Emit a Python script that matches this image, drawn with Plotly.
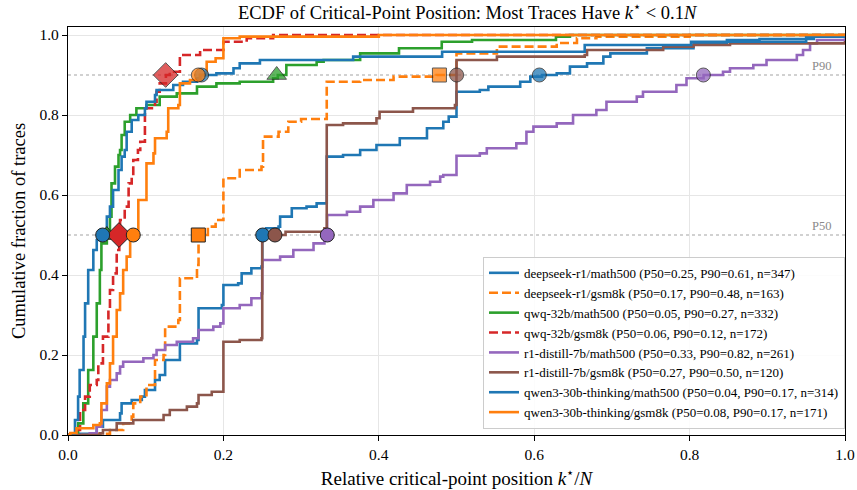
import plotly.graph_objects as go

# ---------------- data ----------------
series_names = [
    "deepseek-r1/math500", "deepseek-r1/gsm8k", "qwq-32b/math500", "qwq-32b/gsm8k",
    "r1-distill-7b/math500", "r1-distill-7b/gsm8k", "qwen3-30b-thinking/math500",
    "qwen3-30b-thinking/gsm8k",
]
p50_labels = ["0.25", "0.17", "0.05", "0.06", "0.33", "0.27", "0.04", "0.08"]
p90_labels = ["0.61", "0.48", "0.27", "0.12", "0.82", "0.50", "0.17", "0.17"]
n_labels = [347, 163, 332, 172, 261, 120, 314, 171]
p50_values = [0.2506, 0.1677, 0.050, 0.0656, 0.3337, 0.2664, 0.0446, 0.084]
p90_values = [0.6066, 0.478, 0.2686, 0.1257, 0.8177, 0.5002, 0.172, 0.1677]

ds_math_x = [0, 0.01, 0.037, 0.045, 0.067, 0.069, 0.082, 0.095, 0.099, 0.112, 0.118, 0.125, 0.144,
             0.166, 0.168, 0.198, 0.2, 0.219, 0.2235, 0.236, 0.249, 0.25, 0.255, 0.271, 0.273,
             0.288, 0.307, 0.32, 0.333, 0.354, 0.376, 0.397, 0.427, 0.462, 0.483, 0.49, 0.5,
             0.53, 0.541, 0.582, 0.595, 0.61, 0.629, 0.646, 0.668, 0.689, 0.698, 0.745, 0.805,
             0.848, 0.89, 0.96, 1.0]
ds_math_y = [0, 0.003, 0.021, 0.0375, 0.054, 0.079, 0.0875, 0.096, 0.1125, 0.1375, 0.15, 0.1875,
             0.229, 0.2375, 0.317, 0.325, 0.375, 0.379, 0.404, 0.417, 0.421, 0.5, 0.517, 0.521,
             0.546, 0.567, 0.571, 0.579, 0.696, 0.70, 0.7125, 0.725, 0.742, 0.767, 0.783, 0.796,
             0.858, 0.8625, 0.871, 0.883, 0.896, 0.9, 0.904, 0.921, 0.929, 0.946, 0.954, 0.967,
             0.979, 0.9875, 0.99, 0.996, 0.997]

ds_gsm_x = [0, 0.04, 0.054, 0.071, 0.082, 0.084, 0.093, 0.101, 0.112, 0.123, 0.125, 0.142, 0.144,
            0.166, 0.168, 0.18, 0.19, 0.2, 0.221, 0.249, 0.251, 0.271, 0.2835, 0.3, 0.333, 0.376,
            0.419, 0.4745, 0.5, 0.552, 0.629, 0.655, 0.68, 0.8, 1.0]
ds_gsm_y = [0, 0.003, 0.0125, 0.029, 0.046, 0.079, 0.096, 0.125, 0.1875, 0.2, 0.271, 0.2875, 0.392,
            0.425, 0.5, 0.521, 0.5375, 0.642, 0.6625, 0.671, 0.746, 0.758, 0.783, 0.79, 0.883,
            0.8875, 0.896, 0.9, 0.954, 0.971, 0.98, 0.992, 0.996, 1.0, 1.0]

qwq_math_x = [0, 0.009, 0.013, 0.0197, 0.026, 0.0326, 0.037, 0.041, 0.043, 0.05, 0.054, 0.056,
              0.0605, 0.065, 0.067, 0.069, 0.073, 0.08, 0.088, 0.101, 0.118, 0.14, 0.166, 0.191,
              0.221, 0.264, 0.27, 0.281, 0.32, 0.329, 0.376, 0.426, 0.481, 0.52, 0.628, 0.646, 1.0]
qwq_math_y = [0, 0.004, 0.029, 0.079, 0.1625, 0.246, 0.329, 0.4125, 0.479, 0.5, 0.546, 0.629,
              0.671, 0.7, 0.7125, 0.75, 0.783, 0.8, 0.817, 0.825, 0.846, 0.854, 0.871, 0.879,
              0.883, 0.892, 0.9, 0.925, 0.933, 0.9375, 0.954, 0.967, 0.983, 0.9875, 0.996, 1.0, 1.0]

qwq_gsm_x = [0, 0.009, 0.0155, 0.022, 0.028, 0.037, 0.039, 0.045, 0.052, 0.054, 0.058, 0.0627,
             0.066, 0.067, 0.073, 0.078, 0.082, 0.084, 0.09, 0.093, 0.099, 0.112, 0.114, 0.118,
             0.126, 0.131, 0.144, 0.17, 0.2, 0.23, 0.264, 1.0]
qwq_gsm_y = [0, 0.0125, 0.0625, 0.096, 0.125, 0.1375, 0.179, 0.246, 0.3125, 0.3625, 0.404, 0.4625,
             0.5, 0.5375, 0.571, 0.629, 0.646, 0.6875, 0.7125, 0.733, 0.817, 0.833, 0.858, 0.879,
             0.9, 0.908, 0.95, 0.9625, 0.983, 0.992, 1.0, 1.0]

r1_math_x = [0, 0.028, 0.037, 0.043, 0.05, 0.054, 0.0627, 0.067, 0.071, 0.097, 0.11, 0.114, 0.125,
             0.14, 0.161, 0.168, 0.187, 0.196, 0.2, 0.221, 0.236, 0.249, 0.25, 0.273, 0.29, 0.316,
             0.33, 0.3335, 0.359, 0.376, 0.393, 0.419, 0.436, 0.466, 0.479, 0.483, 0.5, 0.53,
             0.539, 0.577, 0.59, 0.599, 0.629, 0.65, 0.68, 0.693, 0.732, 0.74, 0.783, 0.796,
             0.818, 0.843, 0.852, 0.882, 0.899, 0.938, 0.946, 0.955, 0.964, 1.0]
r1_math_y = [0, 0.004, 0.021, 0.0625, 0.121, 0.1375, 0.154, 0.171, 0.183, 0.192, 0.2, 0.2125,
             0.225, 0.233, 0.242, 0.2625, 0.271, 0.279, 0.317, 0.325, 0.342, 0.354, 0.4375, 0.446,
             0.4625, 0.479, 0.496, 0.55, 0.558, 0.571, 0.5875, 0.604, 0.625, 0.633, 0.646, 0.65,
             0.698, 0.704, 0.717, 0.729, 0.758, 0.771, 0.779, 0.8, 0.8125, 0.833, 0.846, 0.858,
             0.875, 0.892, 0.9, 0.908, 0.917, 0.925, 0.9375, 0.95, 0.9625, 0.979, 0.9875, 0.992]

r1_gsm_x = [0, 0.041, 0.045, 0.0627, 0.084, 0.123, 0.131, 0.153, 0.166, 0.168, 0.185, 0.2, 0.221,
            0.249, 0.25, 0.28, 0.33, 0.333, 0.354, 0.397, 0.401, 0.444, 0.498, 0.5, 0.552, 0.665,
            0.668, 0.766, 0.805, 0.852, 1.0]
r1_gsm_y = [0, 0.004, 0.0125, 0.029, 0.0375, 0.05, 0.0625, 0.071, 0.079, 0.1, 0.108, 0.233,
            0.2375, 0.242, 0.5, 0.508, 0.517, 0.775, 0.779, 0.792, 0.808, 0.817, 0.825, 0.9375,
            0.946, 0.95, 0.9625, 0.971, 0.975, 0.979, 0.985]

qw_math_x = [0, 0.003, 0.009, 0.013, 0.015, 0.02, 0.022, 0.026, 0.0326, 0.037, 0.044, 0.05, 0.054,
             0.058, 0.065, 0.069, 0.073, 0.0755, 0.082, 0.0905, 0.099, 0.101, 0.112, 0.114,
             0.1355, 0.148, 0.166, 0.17, 0.191, 0.213, 0.221, 0.247, 0.367, 0.4815, 0.665,
             0.802, 0.95, 1.0]
qw_math_y = [0, 0.004, 0.0375, 0.096, 0.1625, 0.246, 0.329, 0.4125, 0.4625, 0.4875, 0.5, 0.546,
             0.571, 0.6125, 0.6625, 0.696, 0.7125, 0.758, 0.7875, 0.8, 0.817, 0.833, 0.85, 0.8625,
             0.875, 0.883, 0.892, 0.9, 0.904, 0.917, 0.929, 0.9375, 0.946, 0.958, 0.975, 0.983,
             0.996, 0.996]

qw_gsm_x = [0, 0.003, 0.011, 0.0326, 0.041, 0.043, 0.05, 0.054, 0.058, 0.0627, 0.067, 0.071,
            0.0755, 0.08, 0.0905, 0.101, 0.11, 0.112, 0.127, 0.129, 0.142, 0.144, 0.157, 0.17,
            0.1785, 0.19, 0.2, 0.221, 0.4, 1.0]
qw_gsm_y = [0, 0.005, 0.017, 0.025, 0.029, 0.079, 0.129, 0.179, 0.246, 0.3125, 0.354, 0.4125,
            0.446, 0.5, 0.5875, 0.679, 0.704, 0.742, 0.758, 0.817, 0.825, 0.879, 0.8875, 0.9,
            0.933, 0.942, 0.992, 0.996, 1.0, 1.0]

curves_x = [ds_math_x, ds_gsm_x, qwq_math_x, qwq_gsm_x, r1_math_x, r1_gsm_x, qw_math_x, qw_gsm_x]
curves_y = [ds_math_y, ds_gsm_y, qwq_math_y, qwq_gsm_y, r1_math_y, r1_gsm_y, qw_math_y, qw_gsm_y]

colors = ["#1f77b4", "#ff7f0e", "#2ca02c", "#d62728", "#9467bd", "#8c564b", "#1f77b4", "#ff7f0e"]
dashes = ["solid", "9px,4px", "solid", "9px,4px", "solid", "solid", "solid", "solid"]
symbols = ["circle", "square", "triangle-up", "diamond", "circle", "circle", "circle", "circle"]
sizes = [14, 14, 17, 19, 14, 14, 14, 14]

FONT = "Liberation Serif, Times New Roman, serif"

fig = go.Figure()

# reference lines
for lvl, lab in [(0.5, "P50"), (0.9, "P90")]:
    fig.add_trace(go.Scatter(x=[0, 1], y=[lvl, lvl], mode="lines", showlegend=False,
                             line=dict(color="rgba(140,140,140,0.8)", width=1, dash="dot"),
                             hoverinfo="skip"))
    fig.add_annotation(x=0.985, y=lvl, text=lab, showarrow=False, xanchor="right",
                       yanchor="bottom", yshift=0, font=dict(family=FONT, size=12.5, color="#8a8a8a"))

for i in range(8):
    fig.add_trace(go.Scatter(
        x=curves_x[i], y=curves_y[i], mode="lines", line_shape="hv",
        name=f"{series_names[i]} (P50={p50_labels[i]}, P90={p90_labels[i]}, n={n_labels[i]})",
        line=dict(color=colors[i], width=2.6, dash=dashes[i]),
    ))

for i in range(8):
    fig.add_trace(go.Scatter(x=[p50_values[i]], y=[0.5], mode="markers", showlegend=False,
                             marker=dict(symbol=symbols[i], size=sizes[i], color=colors[i],
                                         line=dict(color="#222", width=1))))
    fig.add_trace(go.Scatter(x=[p90_values[i]], y=[0.9], mode="markers", showlegend=False,
                             opacity=0.75,
                             marker=dict(symbol=symbols[i], size=sizes[i], color=colors[i],
                                         line=dict(color="#222", width=1))))

axis_common = dict(showline=True, linecolor="black", linewidth=1.2, mirror=True,
                   ticks="outside", ticklen=5, tickwidth=1, tickcolor="black",
                   showgrid=True, gridcolor="#e6e6e6", gridwidth=1, zeroline=False,
                   automargin=False,
                   tickfont=dict(family=FONT, size=15.5, color="black"), tickformat=".1f")

fig.update_layout(
    width=857, height=490,
    margin=dict(l=68, r=12, t=27, b=55),
    plot_bgcolor="white", paper_bgcolor="white",
    font=dict(family=FONT, color="black"),
    title=dict(text="ECDF of Critical-Point Position: Most Traces Have <i>k</i><sup>⋆</sup> &lt; 0.1<i>N</i>",
               x=0.545, xanchor="center", y=0.974, yanchor="middle",
               font=dict(family=FONT, size=18.5, color="black")),
    xaxis=dict(range=[0, 1], dtick=0.2, tick0=0,
               title=dict(text="Relative critical-point position <i>k</i><sup>⋆</sup>/<i>N</i>",
                          font=dict(family=FONT, size=19), standoff=9),
               **axis_common),
    yaxis=dict(range=[0, 1.02], dtick=0.2, tick0=0,
               title=dict(text="Cumulative fraction of traces",
                          font=dict(family=FONT, size=18.5), standoff=8),
               **axis_common),
    legend=dict(x=1.0, y=0.015, xanchor="right", yanchor="bottom",
                bgcolor="rgba(255,255,255,0.85)", bordercolor="#cccccc", borderwidth=1,
                font=dict(family=FONT, size=13, color="black"), tracegroupgap=0,
                itemwidth=30),
)

fig.write_html("out.html")
